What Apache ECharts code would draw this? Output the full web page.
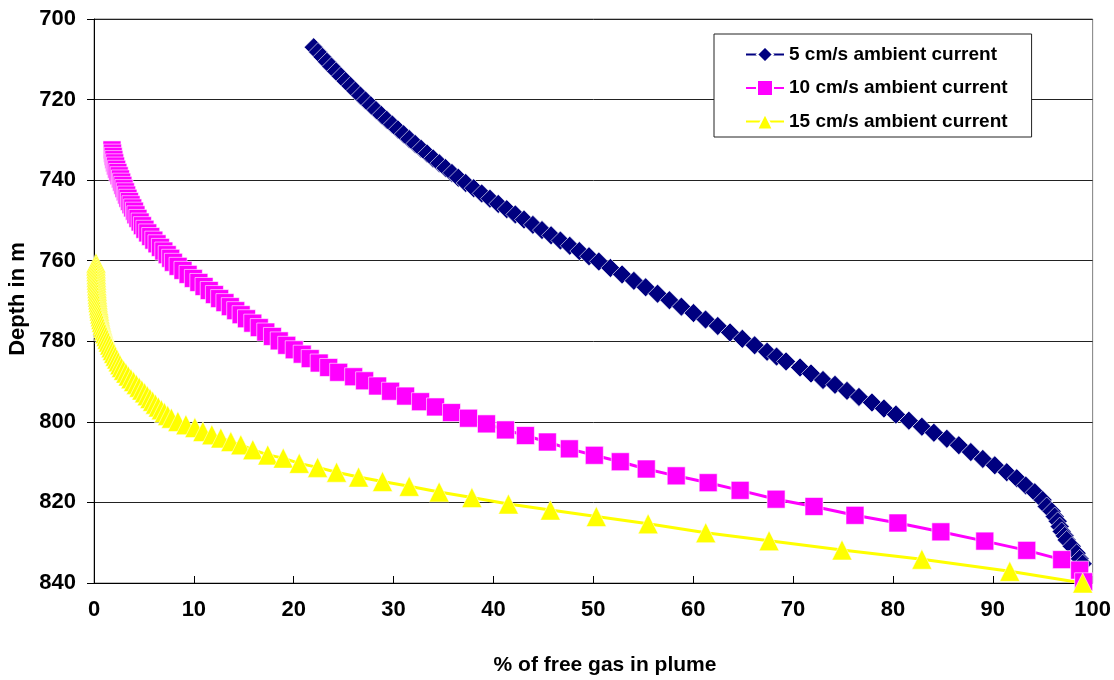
<!DOCTYPE html>
<html>
<head>
<meta charset="utf-8">
<script src="https://cdn.jsdelivr.net/npm/echarts@6/dist/echarts.min.js"></script>
<style>
html,body{margin:0;padding:0;background:#fff;}
#chart{width:1114px;height:680px;}
</style>
</head>
<body>
<div id="chart"></div>
<script>
// ---------- data ----------
var seriesNames = ['5 cm/s ambient current', '10 cm/s ambient current', '15 cm/s ambient current'];
var xTicks = [0, 10, 20, 30, 40, 50, 60, 70, 80, 90, 100];
var yTicks = [700, 720, 740, 760, 780, 800, 820, 840];

var blueDepth = [707.0,708.2,709.4,710.6,711.8,713.0,714.2,715.4,716.6,717.8,719.0,720.2,721.4,722.6,723.8,725.0,726.2,727.4,728.6,729.8,731.0,732.2,733.4,734.6,735.8,737.0,738.2,739.4,
740.7,742.0,743.3,744.6,745.9,747.2,748.5,749.8,751.1,752.4,753.7,755.0,756.3,757.6,758.9,760.2,
761.8,763.4,765.0,766.6,768.2,769.8,771.4,773.0,774.6,776.2,777.8,779.4,781.0,782.6,783.8,
785.0,786.5,788.0,789.6,790.8,792.3,793.8,795.2,796.7,798.2,799.7,801.2,802.7,804.2,805.8,807.5,809.2,810.8,812.5,814.0,815.8,817.5,819.4,
821.0,822.2,823.5,824.7,826.0,827.2,828.3,829.3,830.9,832.6,834.0,835.2];
var blueGas = [22.00,22.43,22.87,23.32,23.77,24.24,24.71,25.19,25.68,26.17,26.67,27.19,27.71,28.23,28.77,29.31,29.87,30.43,31.00,31.57,32.16,32.75,33.35,33.96,34.58,35.20,35.84,36.48,
37.22,38.02,38.82,39.65,40.48,41.33,42.19,43.06,43.95,44.86,45.77,46.70,47.64,48.60,49.57,50.55,
51.71,52.88,54.06,55.24,56.43,57.62,58.82,60.03,61.24,62.46,63.69,64.92,66.15,67.40,68.35,
69.3,70.7,71.8,73.0,74.2,75.4,76.6,77.9,79.1,80.3,81.6,82.9,84.1,85.4,86.6,87.8,89.0,90.2,91.4,92.4,93.3,94.2,95.0,
95.4,95.9,96.2,96.5,96.7,96.9,97.2,97.4,97.9,98.4,98.7,99.0];

var magentaDepth = [732.5,733.3,734.1,734.9,735.7,736.5,737.3,738.1,738.9,739.7,740.5,741.3,742.1,742.9,743.7,744.5,745.3,746.1,746.9,747.7,
748.6,749.5,750.4,751.3,752.2,753.1,754.0,754.9,755.8,756.7,757.6,758.5,759.4,
760.4,761.4,762.4,763.4,764.4,765.4,766.4,767.4,768.4,769.4,770.4,771.4,772.4,773.4,774.4,
775.5,776.6,777.7,778.8,779.9,781.0,782.1,783.2,784.3,785.4,786.5,787.7,
788.8,789.8,791.1,792.4,793.6,795.0,796.3,797.7,799.1,800.5,
802.0,803.4,805.0,806.7,808.3,809.9,811.7,813.4,815.1,817.0,
819.2,821.0,823.2,825.1,827.3,829.6,831.9,834.2,836.8,839.7];
var magentaGas = [1.80,1.86,1.92,1.99,2.07,2.16,2.27,2.39,2.52,2.65,2.77,2.89,3.01,3.14,3.27,3.40,3.55,3.71,3.88,4.05,
4.20,4.40,4.62,4.85,5.10,5.38,5.68,5.99,6.31,6.65,6.99,7.33,7.68,
7.95,8.42,8.91,9.42,9.95,10.50,11.02,11.54,12.06,12.58,13.11,13.65,14.19,14.73,15.27,
15.90,16.55,17.20,17.87,18.55,19.30,20.05,20.85,21.65,22.55,23.50,24.50,
26.0,27.1,28.4,29.7,31.2,32.7,34.2,35.8,37.5,39.3,
41.2,43.2,45.4,47.6,50.1,52.7,55.3,58.3,61.5,64.7,
68.3,72.1,76.2,80.5,84.8,89.2,93.4,96.9,98.7,99.1];

var yellowDepth = [760.6,761.3,762.0,762.7,763.4,764.1,764.8,765.5,766.2,766.9,767.6,768.3,769.0,769.7,770.4,771.1,771.8,772.5,773.2,773.9,
774.6,775.3,776.0,776.7,777.4,778.1,778.8,779.5,780.2,780.9,781.6,782.3,783.0,783.7,784.4,785.1,785.8,786.5,787.2,787.9,
788.6,789.3,790.0,790.7,791.4,792.1,792.8,793.5,794.2,794.9,795.6,796.3,797.0,797.7,798.4,799.1,
799.9,800.7,801.4,802.4,803.2,804.0,804.9,805.7,806.9,808.2,
809.0,810.3,811.3,812.5,813.7,814.8,816.0,817.4,818.8,820.4,
821.9,823.5,825.3,827.5,829.5,831.8,834.1,837.1,840.0];
var yellowGas = [0.20,0.20,0.21,0.22,0.23,0.24,0.25,0.26,0.28,0.30,0.32,0.34,0.36,0.39,0.42,0.46,0.50,0.54,0.58,0.63,
0.69,0.76,0.84,0.92,1.01,1.10,1.21,1.32,1.44,1.57,1.71,1.84,1.98,2.13,2.28,2.43,2.59,2.75,2.96,3.19,
3.43,3.69,3.96,4.24,4.52,4.79,5.06,5.33,5.60,5.87,6.15,6.44,6.74,7.05,7.38,7.75,
8.4,9.2,10.1,10.9,11.8,12.7,13.7,14.7,15.9,17.4,
18.95,20.55,22.39,24.29,26.49,28.89,31.56,34.56,37.84,41.5,
45.7,50.3,55.49,61.26,67.6,74.9,82.9,91.7,99.0];

// ---------- chart ----------
function pairs(xs, ys) {
  var out = [];
  for (var i = 0; i < xs.length; i++) out.push([xs[i], ys[i]]);
  return out;
}
var FONT = '"Liberation Sans", Arial, sans-serif';

var chart = echarts.init(document.getElementById('chart'), null, {renderer: 'canvas'});
chart.setOption({
  animation: false,
  backgroundColor: '#ffffff',
  grid: {left: 94, right: 21, top: 19, bottom: 97, show: true, borderColor: '#808080', borderWidth: 1, backgroundColor: 'transparent'},
  xAxis: {
    type: 'value', min: xTicks[0], max: xTicks[xTicks.length - 1], interval: 10,
    axisLine: {show: true, onZero: false, lineStyle: {color: '#000', width: 1}},
    axisTick: {show: true, inside: true, length: 7, lineStyle: {color: '#000'}},
    axisLabel: {margin: 16, color: '#000', fontSize: 22, fontWeight: 'bold', fontFamily: FONT},
    splitLine: {show: false}
  },
  yAxis: {
    type: 'value', inverse: true, min: yTicks[0], max: yTicks[yTicks.length - 1], interval: 20,
    axisLine: {show: true, onZero: false, lineStyle: {color: '#000', width: 1}},
    axisTick: {show: true, inside: false, length: 7, lineStyle: {color: '#000'}},
    axisLabel: {margin: 18, color: '#000', fontSize: 22, fontWeight: 'bold', fontFamily: FONT},
    splitLine: {show: true, lineStyle: {color: '#222', width: 1}}
  },
  legend: {
    orient: 'vertical', left: 714, top: 34,
    padding: [11, 24, 6, 31], itemGap: 14.5,
    itemWidth: 38, itemHeight: 20,
    backgroundColor: '#fff', borderColor: '#222', borderWidth: 1,
    textStyle: {color: '#000', fontSize: 19, fontWeight: 'bold', fontFamily: FONT},
    data: seriesNames
  },
  graphic: [
    {type: 'text', x: 18, y: 299, rotation: Math.PI / 2,
     style: {text: 'Depth in m', fill: '#000', font: 'bold 22px ' + FONT, align: 'center', verticalAlign: 'middle'}},
    {type: 'text', x: 605, y: 665,
     style: {text: '% of free gas in plume', fill: '#000', font: 'bold 21px ' + FONT, align: 'center', verticalAlign: 'middle'}}
  ],
  series: [
    {
      name: seriesNames[0], type: 'line', clip: false, showSymbol: true, showAllSymbol: true,
      symbol: 'diamond', symbolSize: 19,
      lineStyle: {color: '#000080', width: 2.5},
      itemStyle: {color: '#000080', borderColor: '#ffffff', borderWidth: 0.6},
      data: pairs(blueGas, blueDepth)
    },
    {
      name: seriesNames[1], type: 'line', clip: false, showSymbol: true, showAllSymbol: true,
      symbol: 'rect', symbolSize: 18,
      lineStyle: {color: '#ff00ff', width: 3},
      itemStyle: {color: '#ff00ff', borderColor: '#ffffff', borderWidth: 0.6},
      data: pairs(magentaGas, magentaDepth)
    },
    {
      name: seriesNames[2], type: 'line', clip: false, showSymbol: true, showAllSymbol: true,
      symbol: 'triangle', symbolSize: 20,
      lineStyle: {color: '#ffff00', width: 3},
      itemStyle: {color: '#ffff00', borderColor: '#ffffff', borderWidth: 0.5},
      data: pairs(yellowGas, yellowDepth)
    }
  ]
});
</script>
</body>
</html>
